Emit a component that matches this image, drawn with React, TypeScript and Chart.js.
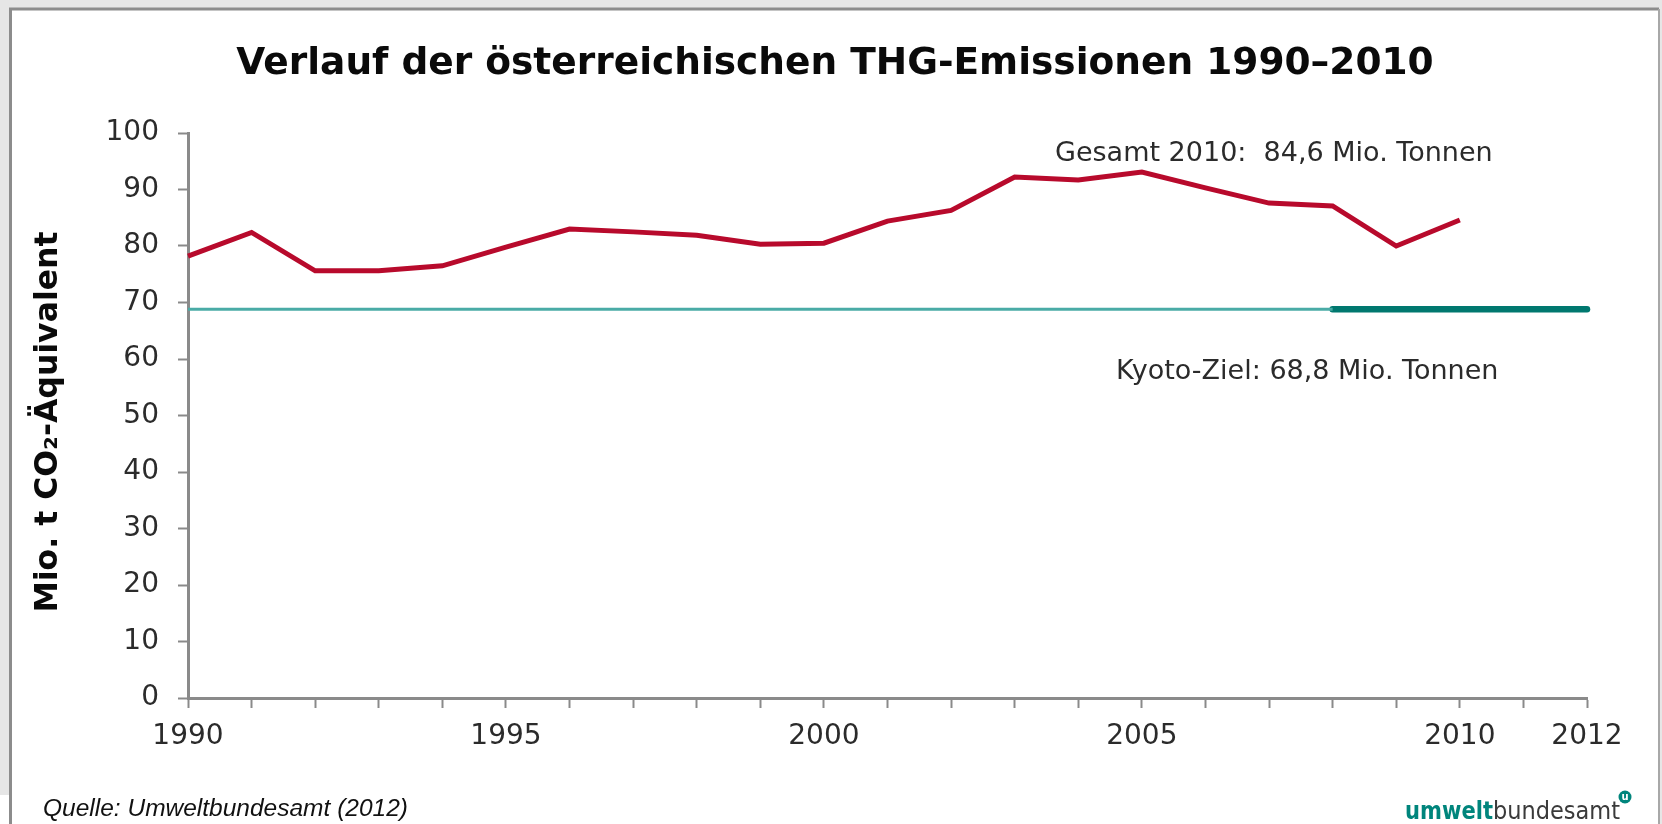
import React, { useEffect, useRef } from 'react';
import { Chart, registerables } from 'chart.js';

Chart.register(...registerables);

// ---------- data ----------
const YEARS = [1990, 1991, 1992, 1993, 1994, 1995, 1996, 1997, 1998, 1999, 2000, 2001, 2002, 2003, 2004, 2005, 2006, 2007, 2008, 2009, 2010];
const EMISSIONS = [78.2, 82.4, 75.6, 75.6, 76.5, 79.8, 83.0, 82.5, 81.9, 80.3, 80.5, 84.4, 86.3, 92.2, 91.7, 93.1, 90.3, 87.6, 87.1, 80.0, 84.6];
const KYOTO_TARGET = 68.8;
const KYOTO_BASE_YEARS = [1990, 2008];
const KYOTO_PERIOD_YEARS = [2008, 2012];
const X_TICK_LABELS = [1990, 1995, 2000, 2005, 2010, 2012];
const X_MIN = 1990;
const X_MAX = 2012;
const Y_MIN = 0;
const Y_MAX = 100;
const Y_STEP = 10;

const TITLE = 'Verlauf der österreichischen THG-Emissionen 1990–2010';
const Y_TITLE = 'Mio. t CO₂-Äquivalent';
const NOTE_TOTAL = 'Gesamt 2010:  84,6 Mio. Tonnen';
const NOTE_KYOTO = 'Kyoto-Ziel: 68,8 Mio. Tonnen';
const SOURCE = 'Quelle: Umweltbundesamt (2012)';
const LOGO_A = 'umwelt';
const LOGO_B = 'bundesamt';

const AXIS_GRAY = '#8a8a8a';
const TEXT_COLOR = '#2b2b2b';

const decorPlugin = {
  id: 'decor',
  beforeDraw(chart: any) {
    const ctx = chart.ctx as CanvasRenderingContext2D;
    const W = chart.width;
    const H = chart.height;
    ctx.save();
    ctx.fillStyle = '#e6e6e6';
    ctx.fillRect(0, 0, W, H);
    ctx.fillStyle = '#ffffff';
    ctx.fillRect(10, 9, 1649, H - 9);
    ctx.fillRect(0, 795, 10, H - 795);
    ctx.strokeStyle = '#8c8c8c';
    ctx.lineWidth = 3;
    ctx.beginPath();
    ctx.moveTo(10.5, H);
    ctx.lineTo(10.5, 9);
    ctx.lineTo(1659, 9);
    ctx.stroke();
    ctx.strokeStyle = '#a8a8a8';
    ctx.lineWidth = 2;
    ctx.beginPath();
    ctx.moveTo(1659, 9);
    ctx.lineTo(1659, H);
    ctx.stroke();
    ctx.restore();
  },
  afterDraw(chart: any) {
    const ctx = chart.ctx as CanvasRenderingContext2D;
    ctx.save();
    // title
    ctx.fillStyle = '#0a0a0a';
    ctx.font = 'bold 37.5px "DejaVu Sans"';
    ctx.textAlign = 'center';
    ctx.textBaseline = 'alphabetic';
    ctx.fillText(TITLE, 835, 74);

    // y axis title
    ctx.save();
    ctx.translate(57, 422);
    ctx.rotate(-Math.PI / 2);
    ctx.font = 'bold 31.5px "DejaVu Sans"';
    ctx.textAlign = 'center';
    ctx.fillStyle = '#0a0a0a';
    ctx.fillText(Y_TITLE, 0, 0);
    ctx.restore();

    // annotations
    ctx.fillStyle = TEXT_COLOR;
    ctx.font = '27px "DejaVu Sans"';
    ctx.textAlign = 'left';
    ctx.fillText(NOTE_TOTAL, 1055, 161);
    ctx.fillText(NOTE_KYOTO, 1116, 379);

    // source
    ctx.font = 'italic 24.5px "Liberation Sans"';
    ctx.fillStyle = '#111111';
    ctx.fillText(SOURCE, 43, 816);

    // logo
    ctx.font = 'bold 24px "DejaVu Sans Condensed"';
    ctx.fillStyle = '#00857c';
    ctx.fillText(LOGO_A, 1405, 819, 88);
    ctx.font = '25px "DejaVu Sans Condensed"';
    ctx.fillStyle = '#3a3a3a';
    ctx.fillText(LOGO_B, 1493, 819, 127);
    ctx.beginPath();
    ctx.arc(1625, 797, 6.5, 0, Math.PI * 2);
    ctx.fillStyle = '#00857c';
    ctx.fill();
    ctx.fillStyle = '#ffffff';
    ctx.font = 'bold 10px "DejaVu Sans"';
    ctx.textAlign = 'center';
    ctx.textBaseline = 'middle';
    ctx.fillText('u', 1625, 797);
    ctx.restore();
  },
};

export default function App() {
  const ref = useRef<HTMLCanvasElement | null>(null);

  useEffect(() => {
    if (!ref.current) return;
    const chart = new Chart(ref.current, {
      type: 'line',
      data: {
        datasets: [
          {
            label: 'THG-Emissionen',
            data: YEARS.map((yr, i) => ({ x: yr, y: EMISSIONS[i] })),
            borderColor: '#b80a2c',
            borderWidth: 5,
            pointRadius: 0,
            tension: 0,
            fill: false,
          },
          {
            label: 'Kyoto-Ziel (Basis)',
            data: KYOTO_BASE_YEARS.map((yr) => ({ x: yr, y: KYOTO_TARGET })),
            borderColor: '#4aaba6',
            borderWidth: 3,
            pointRadius: 0,
            fill: false,
          },
          {
            label: 'Kyoto-Ziel (Verpflichtungsperiode)',
            data: KYOTO_PERIOD_YEARS.map((yr) => ({ x: yr, y: KYOTO_TARGET })),
            borderColor: '#00786f',
            borderWidth: 6.5,
            borderCapStyle: 'round',
            pointRadius: 0,
            fill: false,
          },
        ],
      },
      options: {
        animation: false,
        responsive: true,
        maintainAspectRatio: false,
        events: [],
        clip: false,
        layout: { padding: { left: 0, top: 133, right: 75, bottom: 0 } },
        plugins: {
          legend: { display: false },
          tooltip: { enabled: false },
          title: { display: false },
        },
        scales: {
          x: {
            type: 'linear',
            min: X_MIN,
            max: X_MAX,
            afterFit: (s: any) => {
              s.height = 126;
            },
            ticks: {
              stepSize: 1,
              autoSkip: false,
              maxRotation: 0,
              padding: 12,
              color: TEXT_COLOR,
              font: { family: '"DejaVu Sans"', size: 28 },
              callback: (v: any) => (X_TICK_LABELS.includes(Number(v)) ? String(v) : ''),
            },
            grid: {
              drawOnChartArea: false,
              drawTicks: true,
              tickLength: 10,
              tickWidth: 2,
              tickColor: AXIS_GRAY,
            },
            border: { display: true, color: AXIS_GRAY, width: 3 },
          },
          y: {
            type: 'linear',
            min: Y_MIN,
            max: Y_MAX,
            afterFit: (s: any) => {
              s.width = 188;
            },
            ticks: {
              stepSize: Y_STEP,
              padding: 19,
              color: TEXT_COLOR,
              font: { family: '"DejaVu Sans"', size: 28 },
            },
            grid: {
              drawOnChartArea: false,
              drawTicks: true,
              tickLength: 10,
              tickWidth: 2,
              tickColor: AXIS_GRAY,
            },
            border: { display: true, color: AXIS_GRAY, width: 3 },
          },
        },
      },
      plugins: [decorPlugin],
    } as any);
    return () => chart.destroy();
  }, []);

  return (
    <div style={{ position: 'absolute', left: 0, top: 0, width: 1662, height: 824 }}>
      <canvas ref={ref} />
    </div>
  );
}
